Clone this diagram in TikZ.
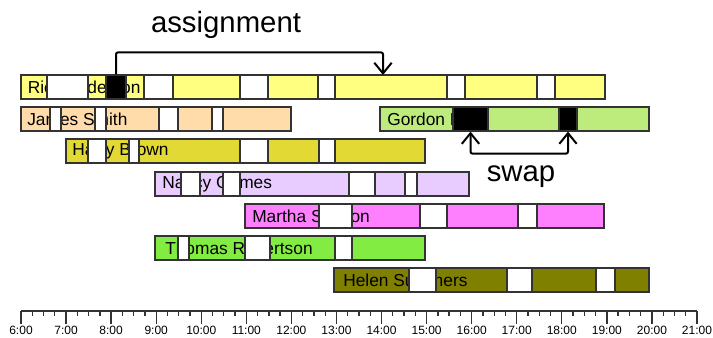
\documentclass[tikz,border=0pt]{standalone}
\usepackage{fontspec}
\setmainfont{Liberation Sans}
\usetikzlibrary{arrows.meta,fit}

\definecolor{edge}{HTML}{333333}
\definecolor{rowRick}{HTML}{FFFF80}
\definecolor{rowJames}{HTML}{FFDCAA}
\definecolor{rowGordon}{HTML}{BDEB7C}
\definecolor{rowHarry}{HTML}{E3D934}
\definecolor{rowNancy}{HTML}{E8CCFF}
\definecolor{rowMartha}{HTML}{FF80FF}
\definecolor{rowThomas}{HTML}{82EC42}
\definecolor{rowHelen}{HTML}{808000}

\tikzset{
	bar/.style={draw=edge, line width=0.9pt},
	gap/.style={bar, fill=white},
	blk/.style={draw=edge, fill=black, line width=0.9pt, inner sep=0pt},
	who/.style={anchor=west, inner sep=0pt, font=\fontsize{13}{15}\selectfont},
	note/.style={anchor=base, inner sep=0pt, font=\fontsize{22}{26}\selectfont},
	conn/.style={line width=1.5pt, rounded corners=1.5pt},
	axis/.style={line width=1pt, edge},
	hour/.style={inner sep=0pt, font=\fontsize{9}{10}\selectfont}
}

\begin{document}
\begin{tikzpicture}[x=0.75pt, y=-0.75pt, >={Straight Barb[length=8pt,width=13pt]}]
	\useasboundingbox (0,0) rectangle (713,338);
	
	% Rick Anderson
	\filldraw[bar, fill=rowRick] (21,75) rectangle (605,99);
	\node[who] (rick) at (27.5,87) {Rick Anderson};
	\foreach \a/\b in {47/88, 144/173, 240/268, 318/335, 447/465, 537/555}
	\filldraw[gap] (\a,75) rectangle (\b,99);
	\node[blk, fit={(106,75) (126,99)}] (move) {};
	\coordinate (slot) at (383,75);
	
	% James Smith and Gordon Hill share a line
	\filldraw[bar, fill=rowJames] (21,107) rectangle (291,131);
	\node[who] (james) at (27,119) {James Smith};
	\foreach \a/\b in {50/61, 95/106, 159/178, 212/223}
	\filldraw[gap] (\a,107) rectangle (\b,131);
	
	\filldraw[bar, fill=rowGordon] (380,107) rectangle (649,131);
	\node[who] (gordon) at (387,119) {Gordon Hill};
	\node[blk, fit={(453,107) (488,131)}] (swapA) {};
	\node[blk, fit={(559,107) (577,131)}] (swapB) {};
	
	% Harry Brown
	\filldraw[bar, fill=rowHarry] (66,139) rectangle (425,163);
	\node[who] (harry) at (72,151) {Harry Brown};
	\foreach \a/\b in {88/106, 129/139, 240/268, 319/335}
	\filldraw[gap] (\a,139) rectangle (\b,163);
	
	% Nancy Grimes
	\filldraw[bar, fill=rowNancy] (155,172) rectangle (469,196);
	\node[who] (nancy) at (162,184) {Nancy Grimes};
	\foreach \a/\b in {181/200, 223/240, 349/375, 405/417}
	\filldraw[gap] (\a,172) rectangle (\b,196);
	
	% Martha Shelton
	\filldraw[bar, fill=rowMartha] (245,204) rectangle (604,228);
	\node[who] (martha) at (252,216) {Martha Shelton};
	\foreach \a/\b in {319/352, 420/447, 518/537}
	\filldraw[gap] (\a,204) rectangle (\b,228);
	
	% Thomas Robertson
	\filldraw[bar, fill=rowThomas] (155,236) rectangle (425,260);
	\node[who] (thomas) at (165,248) {Thomas Robertson};
	\foreach \a/\b in {178/189, 245/270, 335/352}
	\filldraw[gap] (\a,236) rectangle (\b,260);
	
	% Helen Summers
	\filldraw[bar, fill=rowHelen] (334,268) rectangle (649,292);
	\node[who] (helen) at (343,280) {Helen Summers};
	\foreach \a/\b in {409/436, 507/532, 596/615}
	\filldraw[gap] (\a,268) rectangle (\b,292);
	
	% moves
	\draw[conn, ->] (move.north) -- ++(0,-22) -| (slot);
	\node[note] (asg) at (226,33) {assignment};
	\draw[conn, <->] (swapA.south) -- ++(0,22) -| (swapB.south);
	\node[note] (swp) at (521,182) {swap};
	
	% time axis, quarter hours
	\draw[axis] (21,311) -- (697,311);
	\foreach \q in {0,...,60}
	\draw[axis] (21+11.2667*\q,311) -- ++(0,5);
	\foreach \h [evaluate=\h as \hh using int(\h+6)] in {0,...,15} {
		\draw[axis] (21+45.0667*\h,311) -- ++(0,13);
		\node[hour] (h\hh) at (21+45.0667*\h,330) {\hh:00};
	}
	
\end{tikzpicture}
\end{document}
